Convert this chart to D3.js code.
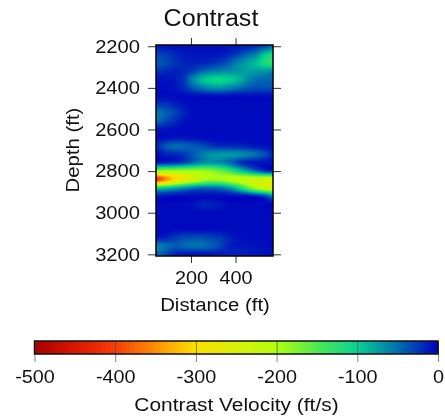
<!DOCTYPE html>
<html>
<head>
<meta charset="utf-8">
<script src="https://cdn.jsdelivr.net/npm/d3@7"></script>
<style>
  html, body { margin: 0; padding: 0; background: #fff; }
  #wrap { position: relative; width: 445px; height: 419px; overflow: hidden; }
  canvas, svg { position: absolute; left: 0; top: 0; }
  text { font-family: "Liberation Sans", Arial, sans-serif; fill: #111; }
</style>
</head>
<body>
<div id="wrap"><canvas id="heat" width="445" height="419"></canvas><svg id="chart" width="445" height="419"></svg></div>
<script>
// values
const distances = [50, 90, 130, 170, 210, 250, 290, 330, 370, 410, 450, 490, 530, 570];
const depths = [2200, 2240, 2280, 2320, 2360, 2400, 2440, 2480, 2520, 2560, 2600, 2640, 2680,
    2720, 2760, 2800, 2840, 2880, 2920, 2960, 3000, 3040, 3080, 3120, 3160, 3200];
const contrast = [
    [-12, -8, -6, -6, -6, -6, -6, -6, -8, -10, -14, -20, -32, -50],
    [-30, -26, -18, -12, -10, -10, -10, -12, -18, -30, -45, -60, -95, -115],
    [-38, -32, -22, -15, -14, -16, -20, -28, -40, -60, -75, -90, -115, -130],
    [-22, -18, -15, -18, -30, -45, -55, -60, -65, -70, -75, -72, -70, -60],
    [-8, -8, -12, -25, -62, -90, -104, -108, -100, -88, -65, -50, -45, -45],
    [-6, -6, -10, -20, -40, -55, -65, -68, -60, -50, -40, -35, -35, -35],
    [-6, -6, -5, -5, -5, -6, -6, -6, -6, -6, -6, -6, -6, -6],
    [-25, -22, -15, -8, -5, -5, -5, -5, -5, -5, -5, -5, -5, -5],
    [-52, -42, -28, -14, -6, -5, -5, -5, -5, -5, -5, -5, -5, -5],
    [-45, -30, -18, -8, -5, -5, -5, -5, -5, -5, -5, -5, -5, -5],
    [-10, -8, -6, -5, -5, -5, -5, -5, -5, -5, -5, -5, -5, -5],
    [-5, -8, -10, -10, -8, -6, -5, -5, -5, -5, -5, -5, -5, -5],
    [-20, -40, -48, -45, -40, -35, -25, -20, -18, -18, -15, -10, -8, -6],
    [-6, -15, -18, -25, -40, -55, -68, -72, -72, -68, -60, -50, -35, -15],
    [-15, -20, -25, -35, -50, -65, -70, -65, -50, -30, -15, -10, -8, -6],
    [-190, -195, -195, -195, -195, -190, -180, -165, -140, -110, -80, -50, -28, -18],
    [-400, -350, -300, -265, -235, -205, -190, -190, -205, -215, -225, -230, -235, -240],
    [-110, -100, -85, -70, -55, -50, -50, -55, -70, -105, -150, -195, -225, -235],
    [-12, -8, -5, -5, -5, -5, -5, -5, -5, -6, -8, -15, -30, -60],
    [-5, -5, -5, -5, -8, -15, -15, -10, -5, -5, -5, -5, -5, -5],
    [-5, -5, -5, -5, -5, -5, -5, -5, -5, -5, -5, -5, -5, -5],
    [-5, -5, -5, -5, -5, -5, -5, -5, -5, -5, -5, -5, -5, -5],
    [-5, -5, -5, -5, -5, -5, -5, -5, -5, -5, -5, -5, -5, -5],
    [-12, -15, -25, -32, -34, -34, -30, -25, -15, -8, -6, -5, -5, -5],
    [-60, -50, -40, -45, -50, -50, -42, -30, -15, -10, -10, -8, -6, -5],
    [-45, -30, -15, -10, -8, -8, -8, -12, -14, -15, -12, -10, -8, -6]
];
const colorStops = [-500, -450, -400, -350, -300, -250, -200, -150, -100, -50, 0];
const colorValues = ["#a80000", "#d81800", "#f83800", "#ff9000", "#fce000", "#d8f000",
    "#b0ff10", "#50e850", "#00d090", "#0070b0", "#0000c0"];
const xTicks = [200, 400];
const yTicks = [2200, 2400, 2600, 2800, 3000, 3200];
const barTicks = [-500, -400, -300, -200, -100, 0];

// plot area
const left = 156, right = 273, top_ = 45, bottom = 256;

const x = d3.scaleLinear().domain([43, 568]).range([left, right]);
const y = d3.scaleLinear().domain([2194, 3208]).range([top_, bottom]);
const color = d3.scaleLinear().domain(colorStops).range(colorValues).clamp(true);

// catmull-rom so the grid doesnt look faceted
function cr(a, b, c, d, t) {
    return 0.5 * (2 * b + (c - a) * t + (2 * a - 5 * b + 4 * c - d) * t * t + (3 * b - a - 3 * c + d) * t * t * t);
}
function sample(dist, depth) {
    const fx = (dist - distances[0]) / (distances[1] - distances[0]);
    const fy = (depth - depths[0]) / (depths[1] - depths[0]);
    const cx = Math.max(0, Math.min(distances.length - 2, Math.floor(fx)));
    const cy = Math.max(0, Math.min(depths.length - 2, Math.floor(fy)));
    const tx = Math.max(0, Math.min(1, fx - cx));
    const ty = Math.max(0, Math.min(1, fy - cy));
    const rows = [-1, 0, 1, 2].map(j => {
        const r = contrast[Math.max(0, Math.min(depths.length - 1, cy + j))];
        const at = i => r[Math.max(0, Math.min(distances.length - 1, cx + i))];
        return cr(at(-1), at(0), at(1), at(2), tx);
    });
    return Math.min(0, cr(rows[0], rows[1], rows[2], rows[3], ty));
}

// heat map goes on the canvas under the svg
const ctx = document.getElementById("heat").getContext("2d");
for (let px = left; px < right; px++) {
    for (let py = top_; py < bottom; py++) {
        ctx.fillStyle = color(sample(x.invert(px + 0.5), y.invert(py + 0.5)));
        ctx.fillRect(px, py, 1, 1);
    }
}

const svg = d3.select("#chart");

// the reference text is a bit wider than the font, so stretch it
function widen(sel, k) {
    sel.each(function () {
        const w = this.getComputedTextLength();
        d3.select(this).attr("textLength", w * k).attr("lengthAdjust", "spacingAndGlyphs");
    });
}

function styleAxis(g) {
    g.select(".domain").remove();
    g.selectAll(".tick line").attr("stroke", "#333").attr("stroke-width", 1);
    g.selectAll(".tick text").attr("font-size", 18).attr("fill", "#111");
}

svg.append("g").attr("transform", `translate(0,${bottom})`)
    .call(d3.axisBottom(x).tickValues(xTicks).tickSize(7).tickPadding(8).tickFormat(d3.format("d")))
    .call(styleAxis)
    .call(g => widen(g.selectAll(".tick text"), 1.1));
svg.append("g").attr("transform", `translate(0,${top_})`)
    .call(d3.axisTop(x).tickValues(xTicks).tickSize(7).tickFormat(""))
    .call(styleAxis);
svg.append("g").attr("transform", `translate(${left},0)`)
    .call(d3.axisLeft(y).tickValues(yTicks).tickSize(8).tickPadding(8).tickFormat(d3.format("d")))
    .call(styleAxis)
    .call(g => widen(g.selectAll(".tick text"), 1.12));
svg.append("g").attr("transform", `translate(${right},0)`)
    .call(d3.axisRight(y).tickValues(yTicks).tickSize(8).tickFormat(""))
    .call(styleAxis);

svg.append("rect")
    .attr("x", left).attr("y", top_)
    .attr("width", right - left).attr("height", bottom - top_)
    .attr("fill", "none").attr("stroke", "#000").attr("stroke-width", 1.5);

svg.append("text").attr("x", 211).attr("y", 26).attr("text-anchor", "middle")
    .attr("font-size", 23).text("Contrast")
    .call(widen, 1.09);
svg.append("text").attr("x", 215).attr("y", 311).attr("text-anchor", "middle")
    .attr("font-size", 18).text("Distance (ft)")
    .call(widen, 1.13);
svg.append("text").attr("transform", "translate(79,150) rotate(-90)").attr("text-anchor", "middle")
    .attr("font-size", 18).text("Depth (ft)")
    .call(widen, 1.13);

// colour bar
const barX = d3.scaleLinear().domain([-500, 0]).range([34.5, 438]);
const barTop = 341, barBottom = 354;

svg.append("g").selectAll("rect")
    .data(d3.range(-500, 0, 2.5))
    .join("rect")
    .attr("x", d => barX(d))
    .attr("y", barTop)
    .attr("width", barX(2.5) - barX(0) + 0.5)
    .attr("height", barBottom - barTop)
    .attr("fill", d => color(d + 1.25));

svg.append("g").attr("transform", `translate(0,${barBottom})`)
    .call(d3.axisBottom(barX).tickValues(barTicks).tickSize(8).tickPadding(8).tickFormat(d3.format("d")))
    .call(styleAxis)
    .call(g => g.selectAll(".tick line").attr("y1", barTop - barBottom).attr("stroke", "#555").attr("stroke-opacity", 0.7))
    .call(g => g.selectAll(".tick text").text(d => d))
    .call(g => widen(g.selectAll(".tick text"), 1.1));

svg.append("rect")
    .attr("x", barX(-500)).attr("y", barTop)
    .attr("width", barX(0) - barX(-500)).attr("height", barBottom - barTop)
    .attr("fill", "none").attr("stroke", "#111").attr("stroke-width", 1.5);

svg.append("text").attr("x", 236.5).attr("y", 411).attr("text-anchor", "middle")
    .attr("font-size", 18).text("Contrast Velocity (ft/s)")
    .call(widen, 1.16);
</script>
</body>
</html>
